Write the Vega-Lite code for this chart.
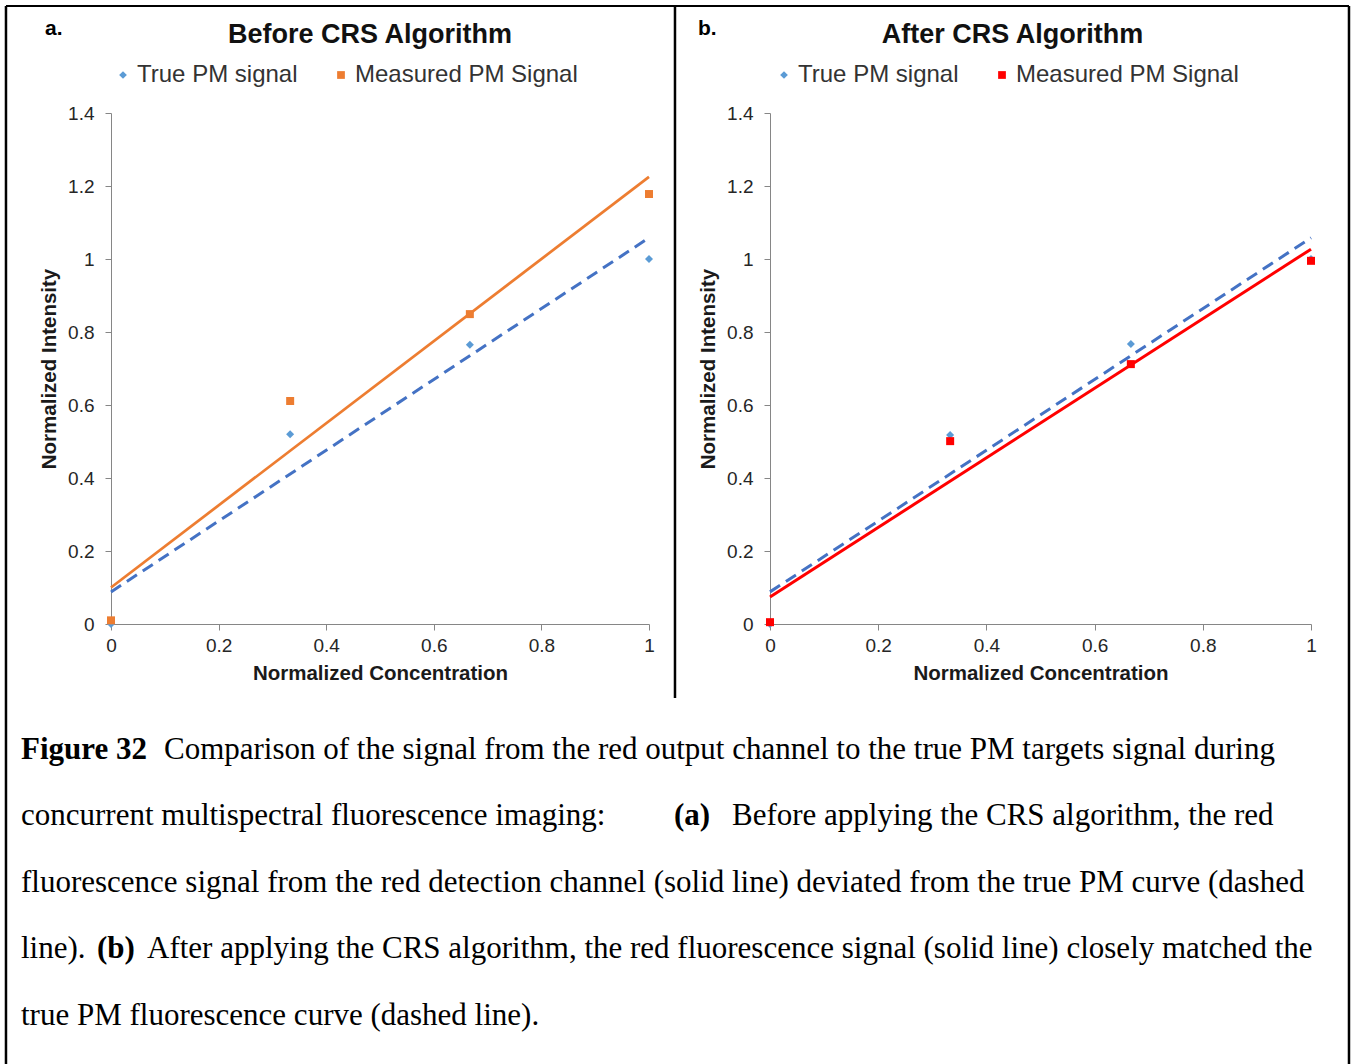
{
  "$schema": "https://vega.github.io/schema/vega-lite/v6.json",
  "padding": {"left": 4, "top": 4, "right": 0, "bottom": 0},
  "background": "white",
  "datasets": {
    "points": [
      {"panel": "a", "series": "True PM signal", "x": 0, "y": 0.0},
      {"panel": "a", "series": "True PM signal", "x": 0.333, "y": 0.52},
      {"panel": "a", "series": "True PM signal", "x": 0.667, "y": 0.765},
      {"panel": "a", "series": "True PM signal", "x": 1, "y": 1.0},
      {"panel": "a", "series": "Measured PM Signal", "x": 0, "y": 0.01},
      {"panel": "a", "series": "Measured PM Signal", "x": 0.333, "y": 0.611},
      {"panel": "a", "series": "Measured PM Signal", "x": 0.667, "y": 0.849},
      {"panel": "a", "series": "Measured PM Signal", "x": 1, "y": 1.178},
      {"panel": "b", "series": "True PM signal", "x": 0, "y": 0.0},
      {"panel": "b", "series": "True PM signal", "x": 0.333, "y": 0.518},
      {"panel": "b", "series": "True PM signal", "x": 0.667, "y": 0.767},
      {"panel": "b", "series": "True PM signal", "x": 1, "y": 1.0},
      {"panel": "b", "series": "Measured PM Signal", "x": 0, "y": 0.005},
      {"panel": "b", "series": "Measured PM Signal", "x": 0.333, "y": 0.501},
      {"panel": "b", "series": "Measured PM Signal", "x": 0.667, "y": 0.712},
      {"panel": "b", "series": "Measured PM Signal", "x": 1, "y": 0.995}
    ],
    "trends": [
      {"panel": "a", "series": "True PM signal", "x": 0, "y": 0.088},
      {"panel": "a", "series": "True PM signal", "x": 1, "y": 1.058},
      {"panel": "a", "series": "Measured PM Signal", "x": 0, "y": 0.10},
      {"panel": "a", "series": "Measured PM Signal", "x": 1, "y": 1.225},
      {"panel": "b", "series": "True PM signal", "x": 0, "y": 0.088},
      {"panel": "b", "series": "True PM signal", "x": 1, "y": 1.058},
      {"panel": "b", "series": "Measured PM Signal", "x": 0, "y": 0.074},
      {"panel": "b", "series": "Measured PM Signal", "x": 1, "y": 1.027}
    ],
    "caption": [
      {"line": 1, "seg": "1a", "text": "Figure 32"},
      {"line": 1, "seg": "1b", "text": "Comparison of the signal from the red output channel to the true PM targets signal during"},
      {"line": 2, "seg": "2a", "text": "concurrent multispectral fluorescence imaging:"},
      {"line": 2, "seg": "2b", "text": "(a)"},
      {"line": 2, "seg": "2c", "text": "Before applying the CRS algorithm, the red"},
      {"line": 3, "seg": "3a", "text": "fluorescence signal from the red detection channel (solid line) deviated from the true PM curve (dashed"},
      {"line": 4, "seg": "4a", "text": "line)."},
      {"line": 4, "seg": "4b", "text": "(b)"},
      {"line": 4, "seg": "4c", "text": "After applying the CRS algorithm, the red fluorescence signal (solid line) closely matched the"},
      {"line": 5, "seg": "5a", "text": "true PM fluorescence curve (dashed line)."}
    ]
  },
  "columns": 2,
  "bounds": "flush",
  "spacing": {"row": 74, "column": 121},
  "resolve": {
    "scale": {"x": "independent", "y": "independent", "color": "independent", "shape": "independent"},
    "legend": {"color": "independent", "shape": "independent"}
  },
  "concat": [
    {
      "width": 538,
      "height": 511,
      "title": {"text": "Before CRS Algorithm", "dx": -10, "dy": -10},
      "layer": [
        {
          "data": {"name": "trends"},
          "transform": [{"filter": "datum.panel == 'a' && datum.series == 'True PM signal'"}],
          "mark": {"type": "line", "color": "#4472C4", "strokeWidth": 3, "strokeDash": [12, 7]},
          "encoding": {
            "x": {"field": "x", "type": "quantitative", "scale": {"domain": [0, 1], "nice": false, "zero": false},
                  "axis": {"title": "Normalized Concentration", "values": [0, 0.2, 0.4, 0.6, 0.8, 1], "format": "~g"}},
            "y": {"field": "y", "type": "quantitative", "scale": {"domain": [0, 1.4], "nice": false},
                  "axis": {"title": "Normalized Intensity", "values": [0, 0.2, 0.4, 0.6, 0.8, 1, 1.2, 1.4], "format": "~g"}}
          }
        },
        {
          "data": {"name": "trends"},
          "transform": [{"filter": "datum.panel == 'a' && datum.series == 'Measured PM Signal'"}],
          "mark": {"type": "line", "color": "#ED7D31", "strokeWidth": 2.75},
          "encoding": {
            "x": {"field": "x", "type": "quantitative"},
            "y": {"field": "y", "type": "quantitative"}
          }
        },
        {
          "data": {"name": "points"},
          "transform": [{"filter": "datum.panel == 'a'"}],
          "mark": {"type": "point", "filled": true, "opacity": 1, "size": 64},
          "encoding": {
            "x": {"field": "x", "type": "quantitative"},
            "y": {"field": "y", "type": "quantitative"},
            "color": {"field": "series", "type": "nominal",
                      "scale": {"domain": ["True PM signal", "Measured PM Signal"], "range": ["#5B9BD5", "#ED7D31"]},
                      "legend": {"orient": "none", "direction": "horizontal", "legendX": 0, "legendY": -50, "title": null}},
            "shape": {"field": "series", "type": "nominal",
                      "scale": {"domain": ["True PM signal", "Measured PM Signal"], "range": ["diamond", "square"]},
                      "legend": {"orient": "none", "direction": "horizontal", "legendX": 0, "legendY": -50, "title": null}}
          }
        }
      ]
    },
    {
      "width": 541,
      "height": 511,
      "title": {"text": "After CRS Algorithm", "dx": -28, "dy": -10},
      "layer": [
        {
          "data": {"name": "trends"},
          "transform": [{"filter": "datum.panel == 'b' && datum.series == 'True PM signal'"}],
          "mark": {"type": "line", "color": "#4472C4", "strokeWidth": 3, "strokeDash": [12, 7]},
          "encoding": {
            "x": {"field": "x", "type": "quantitative", "scale": {"domain": [0, 1], "nice": false, "zero": false},
                  "axis": {"title": "Normalized Concentration", "values": [0, 0.2, 0.4, 0.6, 0.8, 1], "format": "~g"}},
            "y": {"field": "y", "type": "quantitative", "scale": {"domain": [0, 1.4], "nice": false},
                  "axis": {"title": "Normalized Intensity", "values": [0, 0.2, 0.4, 0.6, 0.8, 1, 1.2, 1.4], "format": "~g"}}
          }
        },
        {
          "data": {"name": "trends"},
          "transform": [{"filter": "datum.panel == 'b' && datum.series == 'Measured PM Signal'"}],
          "mark": {"type": "line", "color": "#FF0000", "strokeWidth": 3},
          "encoding": {
            "x": {"field": "x", "type": "quantitative"},
            "y": {"field": "y", "type": "quantitative"}
          }
        },
        {
          "data": {"name": "points"},
          "transform": [{"filter": "datum.panel == 'b'"}],
          "mark": {"type": "point", "filled": true, "opacity": 1, "size": 64},
          "encoding": {
            "x": {"field": "x", "type": "quantitative"},
            "y": {"field": "y", "type": "quantitative"},
            "color": {"field": "series", "type": "nominal",
                      "scale": {"domain": ["True PM signal", "Measured PM Signal"], "range": ["#5B9BD5", "#FF0000"]},
                      "legend": {"orient": "none", "direction": "horizontal", "legendX": 2, "legendY": -50, "title": null}},
            "shape": {"field": "series", "type": "nominal",
                      "scale": {"domain": ["True PM signal", "Measured PM Signal"], "range": ["diamond", "square"]},
                      "legend": {"orient": "none", "direction": "horizontal", "legendX": 2, "legendY": -50, "title": null}}
          }
        }
      ]
    },
    {
      "width": 538,
      "height": 367,
      "data": {"name": "caption"},
      "layer": [
        {
          "transform": [{"filter": "indexof(['1a'], datum.seg) >= 0"}],
          "mark": {"type": "text", "align": "left", "baseline": "middle", "font": "Liberation Serif", "fontSize": 31, "fontWeight": "bold", "color": "#000000"},
          "encoding": {
            "x": {"datum": -0.16729, "type": "quantitative", "scale": {"domain": [0, 1], "nice": false, "zero": false}, "axis": null},
            "y": {"field": "line", "type": "quantitative", "scale": {"domain": [0.218, 5.737], "reverse": true, "nice": false, "zero": false}, "axis": null},
            "text": {"field": "text"}
          }
        },
        {
          "transform": [{"filter": "indexof(['2a', '3a', '4a', '5a'], datum.seg) >= 0"}],
          "mark": {"type": "text", "align": "left", "baseline": "middle", "font": "Liberation Serif", "fontSize": 31, "color": "#000000"},
          "encoding": {
            "x": {"datum": -0.16729, "type": "quantitative"},
            "y": {"field": "line", "type": "quantitative"},
            "text": {"field": "text"}
          }
        },
        {
          "transform": [{"filter": "datum.seg == '1b'"}],
          "mark": {"type": "text", "align": "left", "baseline": "middle", "font": "Liberation Serif", "fontSize": 31, "color": "#000000"},
          "encoding": {
            "x": {"datum": 0.09851, "type": "quantitative"},
            "y": {"field": "line", "type": "quantitative"},
            "text": {"field": "text"}
          }
        },
        {
          "transform": [{"filter": "datum.seg == '2b'"}],
          "mark": {"type": "text", "align": "left", "baseline": "middle", "font": "Liberation Serif", "fontSize": 31, "fontWeight": "bold", "color": "#000000"},
          "encoding": {
            "x": {"datum": 1.04647, "type": "quantitative"},
            "y": {"field": "line", "type": "quantitative"},
            "text": {"field": "text"}
          }
        },
        {
          "transform": [{"filter": "datum.seg == '2c'"}],
          "mark": {"type": "text", "align": "left", "baseline": "middle", "font": "Liberation Serif", "fontSize": 31, "color": "#000000"},
          "encoding": {
            "x": {"datum": 1.15428, "type": "quantitative"},
            "y": {"field": "line", "type": "quantitative"},
            "text": {"field": "text"}
          }
        },
        {
          "transform": [{"filter": "datum.seg == '4b'"}],
          "mark": {"type": "text", "align": "left", "baseline": "middle", "font": "Liberation Serif", "fontSize": 31, "fontWeight": "bold", "color": "#000000"},
          "encoding": {
            "x": {"datum": -0.02602, "type": "quantitative"},
            "y": {"field": "line", "type": "quantitative"},
            "text": {"field": "text"}
          }
        },
        {
          "transform": [{"filter": "datum.seg == '4c'"}],
          "mark": {"type": "text", "align": "left", "baseline": "middle", "font": "Liberation Serif", "fontSize": 31, "color": "#000000"},
          "encoding": {
            "x": {"datum": 0.06691, "type": "quantitative"},
            "y": {"field": "line", "type": "quantitative"},
            "text": {"field": "text"}
          }
        },
        {
          "data": {"values": [{"label": "a.", "px": -0.1227}, {"label": "b.", "px": 1.0911}]},
          "mark": {"type": "text", "align": "left", "baseline": "middle", "font": "Liberation Sans", "fontSize": 21, "fontWeight": "bold", "color": "#000000"},
          "encoding": {
            "x": {"field": "px", "type": "quantitative"},
            "y": {"datum": -9.842, "type": "quantitative"},
            "text": {"field": "label"}
          }
        },
        {
          "data": {"values": [{}]},
          "mark": {"type": "rule", "color": "#000000", "strokeWidth": 2.5},
          "encoding": {"x": {"datum": -0.1952, "type": "quantitative"}, "y": {"datum": -10.188, "type": "quantitative"}, "y2": {"datum": 5.737}}
        },
        {
          "data": {"values": [{}]},
          "mark": {"type": "rule", "color": "#000000", "strokeWidth": 2.5},
          "encoding": {"x": {"datum": 2.3011, "type": "quantitative"}, "y": {"datum": -10.188, "type": "quantitative"}, "y2": {"datum": 5.737}}
        },
        {
          "data": {"values": [{}]},
          "mark": {"type": "rule", "color": "#000000", "strokeWidth": 2},
          "encoding": {"x": {"datum": -0.1952, "type": "quantitative"}, "x2": {"datum": 2.3011}, "y": {"datum": -10.188, "type": "quantitative"}}
        },
        {
          "data": {"values": [{}]},
          "mark": {"type": "rule", "color": "#000000", "strokeWidth": 2.5},
          "encoding": {"x": {"datum": 1.0483, "type": "quantitative"}, "y": {"datum": -10.188, "type": "quantitative"}, "y2": {"datum": 0.218}}
        }
      ]
    }
  ],
  "config": {
    "font": "Liberation Sans",
    "view": {"stroke": null},
    "axis": {
      "grid": false, "domainColor": "#868686", "tickColor": "#868686", "tickSize": 6, "labelFlush": false,
      "labelFont": "Liberation Sans", "labelFontSize": 19, "labelColor": "#262626",
      "titleFont": "Liberation Sans", "titleFontSize": 20.5, "titleFontWeight": "bold", "titleColor": "#1a1a1a"
    },
    "axisX": {"labelPadding": 6, "titlePadding": 8},
    "axisY": {"labelPadding": 11, "titlePadding": 8},
    "legend": {"labelFont": "Liberation Sans", "labelFontSize": 24, "labelColor": "#333333", "labelLimit": 0, "symbolSize": 60, "columnPadding": 31, "labelOffset": 2, "symbolStrokeWidth": 0},
    "title": {"font": "Liberation Sans", "fontSize": 27, "fontWeight": "bold", "color": "#111111"}
  }
}
